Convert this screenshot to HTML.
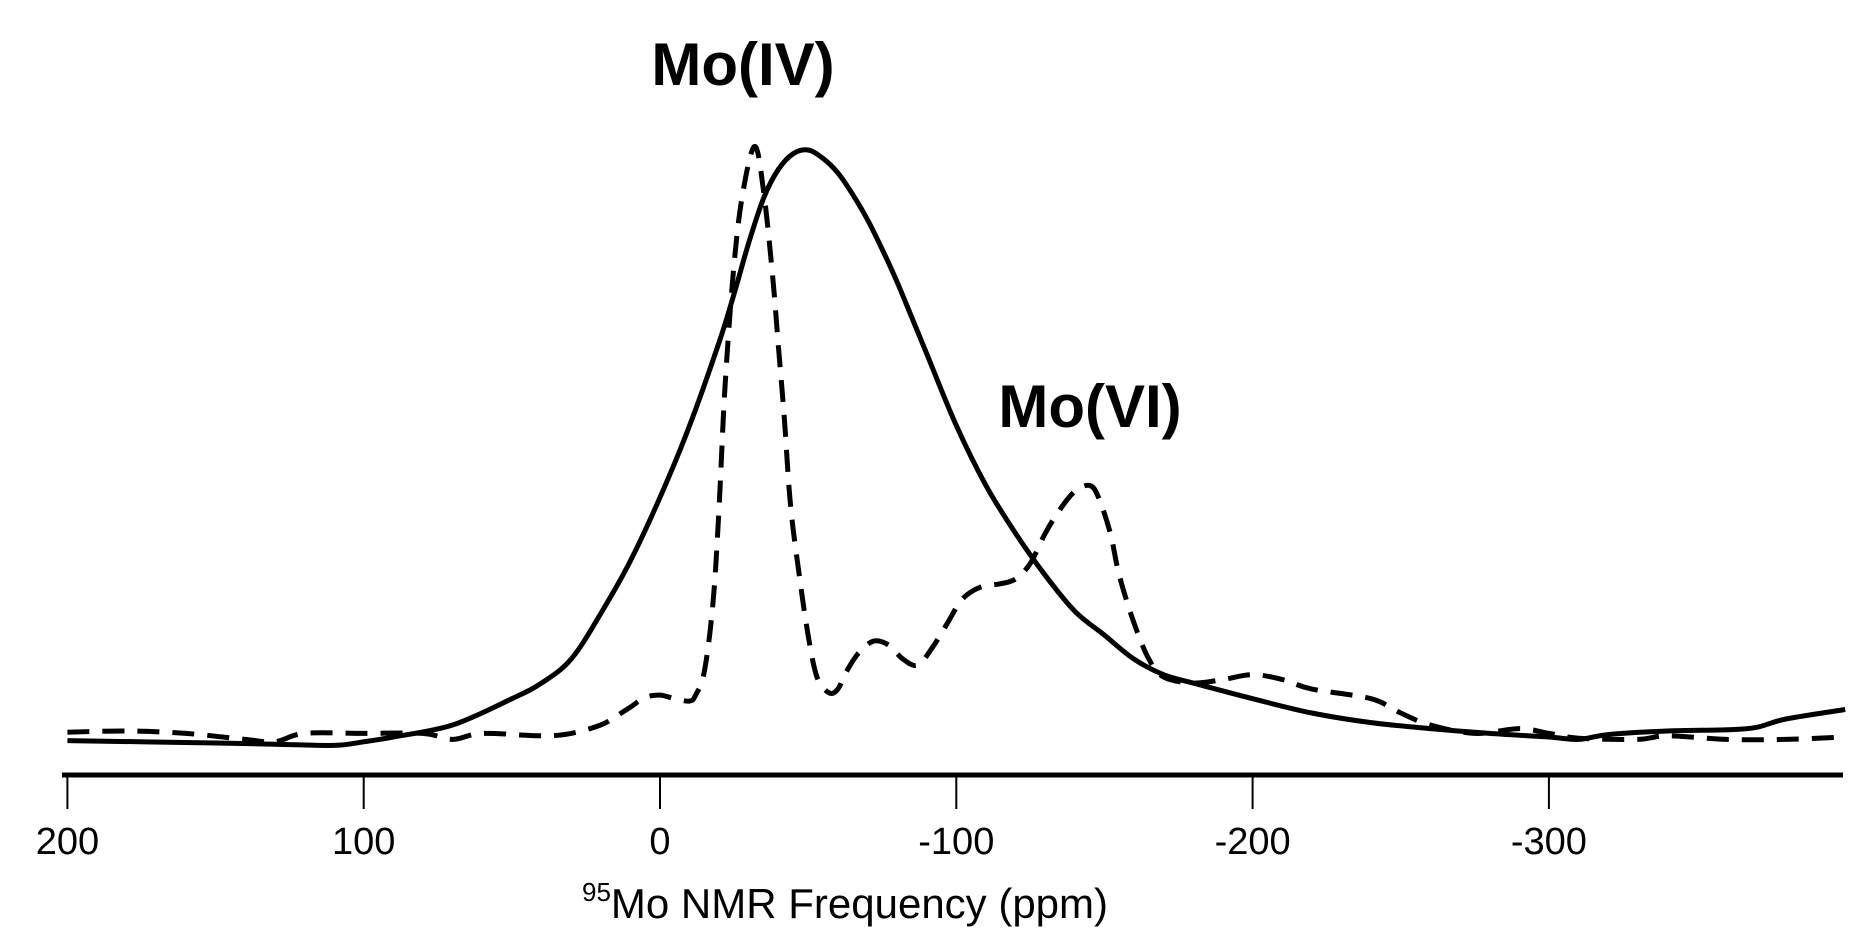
<!DOCTYPE html>
<html><head><meta charset="utf-8"><style>
html,body{margin:0;padding:0;background:#fff;}
svg{display:block;font-family:"Liberation Sans",sans-serif;}
</style></head><body>
<svg id="chart" width="1869" height="945" viewBox="0 0 1869 945">
<g id="curves"></g>
<line x1="62" y1="775" x2="1843" y2="775" stroke="#000" stroke-width="5"/>
<g id="ticks"></g>
<text x="845" y="918" font-size="42" text-anchor="middle"><tspan font-size="26" dy="-17">95</tspan><tspan dy="17">Mo NMR Frequency (ppm)</tspan></text>
<text x="743" y="85" font-size="60" font-weight="bold" text-anchor="middle">Mo(IV)</text>
<text x="1090" y="427" font-size="60" font-weight="bold" text-anchor="middle">Mo(VI)</text>
</svg>
<script>
const tickValues=[200,100,0,-100,-200,-300];
const solidPpm=[200,150,130,110,100,90,70,50,40,30,20,10,0,-10,-20,-25,-30,-35,-40,-45,-50,-55,-60,-65,-70,-75,-80,-85,-90,-100,-110,-120,-130,-140,-150,-160,-170,-180,-200,-220,-240,-260,-280,-300,-310,-320,-340,-360,-370,-380,-400];
const solidInt=[2,0,-1,-2,1,5,15,37,50,70,108,152,205,265,335,375,418,455,479,492,495,488,476,458,437,412,385,355,325,265,215,175,140,110,90,70,57,50,37,25,17,12,8,5,3,7,10,11,13,20,28];
const dashPpm=[200,180,160,140,130,120,100,80,70,60,40,30,20,15,10,5,0,-5,-10,-12,-15,-18,-20,-22,-25,-28,-32,-35,-38,-40,-42,-44,-47,-50,-53,-57,-60,-63,-67,-72,-77,-82,-87,-92,-97,-102,-108,-115,-120,-125,-130,-135,-140,-145,-148,-152,-155,-160,-165,-170,-180,-190,-200,-210,-220,-240,-250,-260,-275,-290,-300,-310,-330,-340,-360,-380,-400];
const dashInt=[9,10,8,3,1,8,8,8,3,8,6,8,15,22,30,38,40,37,35,40,60,120,200,300,400,460,498,460,390,330,270,200,140,90,55,42,45,60,75,85,82,70,65,80,100,120,130,133,137,150,175,195,210,215,205,175,140,100,70,55,50,53,57,53,45,37,25,15,8,12,8,4,3,6,3,3,5];
const S=1.198;
function xs(p){return 660+(0-p)*2.963;}
function ys(v){return 743-v*S;}
const NS="http://www.w3.org/2000/svg";
const g=document.getElementById('curves');
function smooth(pts){
 let d='M'+pts[0][0].toFixed(1)+','+pts[0][1].toFixed(1);
 for(let i=0;i<pts.length-1;i++){
  const p0=pts[Math.max(i-1,0)],p1=pts[i],p2=pts[i+1],p3=pts[Math.min(i+2,pts.length-1)];
  const c1x=p1[0]+(p2[0]-p0[0])/6,c1y=p1[1]+(p2[1]-p0[1])/6;
  const c2x=p2[0]-(p3[0]-p1[0])/6,c2y=p2[1]-(p3[1]-p1[1])/6;
  d+='C'+c1x.toFixed(1)+','+c1y.toFixed(1)+' '+c2x.toFixed(1)+','+c2y.toFixed(1)+' '+p2[0].toFixed(1)+','+p2[1].toFixed(1);
 }
 return d;
}
function path(px,iy,dash,name){
 const p=document.createElementNS(NS,'path');
 p.setAttribute('d',smooth(px.map((v,i)=>[xs(v),ys(iy[i])])));
 p.setAttribute('fill','none');p.setAttribute('stroke','#000');p.setAttribute('stroke-width','5');
 p.setAttribute('stroke-linejoin','round');
 if(dash)p.setAttribute('stroke-dasharray','22 13');
 
 
 g.appendChild(p);
}
path(dashPpm,dashInt,true,'dashed-spectrum');
path(solidPpm,solidInt,false,'solid-spectrum');
const t=document.getElementById('ticks');
tickValues.forEach(v=>{
 const l=document.createElementNS(NS,'line');
 l.setAttribute('x1',xs(v));l.setAttribute('x2',xs(v));l.setAttribute('y1',775);l.setAttribute('y2',809);
 l.setAttribute('stroke','#000');l.setAttribute('stroke-width','2');
 
 
 t.appendChild(l);
 const tx=document.createElementNS(NS,'text');
 tx.setAttribute('x',xs(v));tx.setAttribute('y',854);tx.setAttribute('font-size','38');tx.setAttribute('text-anchor','middle');
 tx.textContent=v;
 
 
 t.appendChild(tx);
});
</script>
</body></html>
